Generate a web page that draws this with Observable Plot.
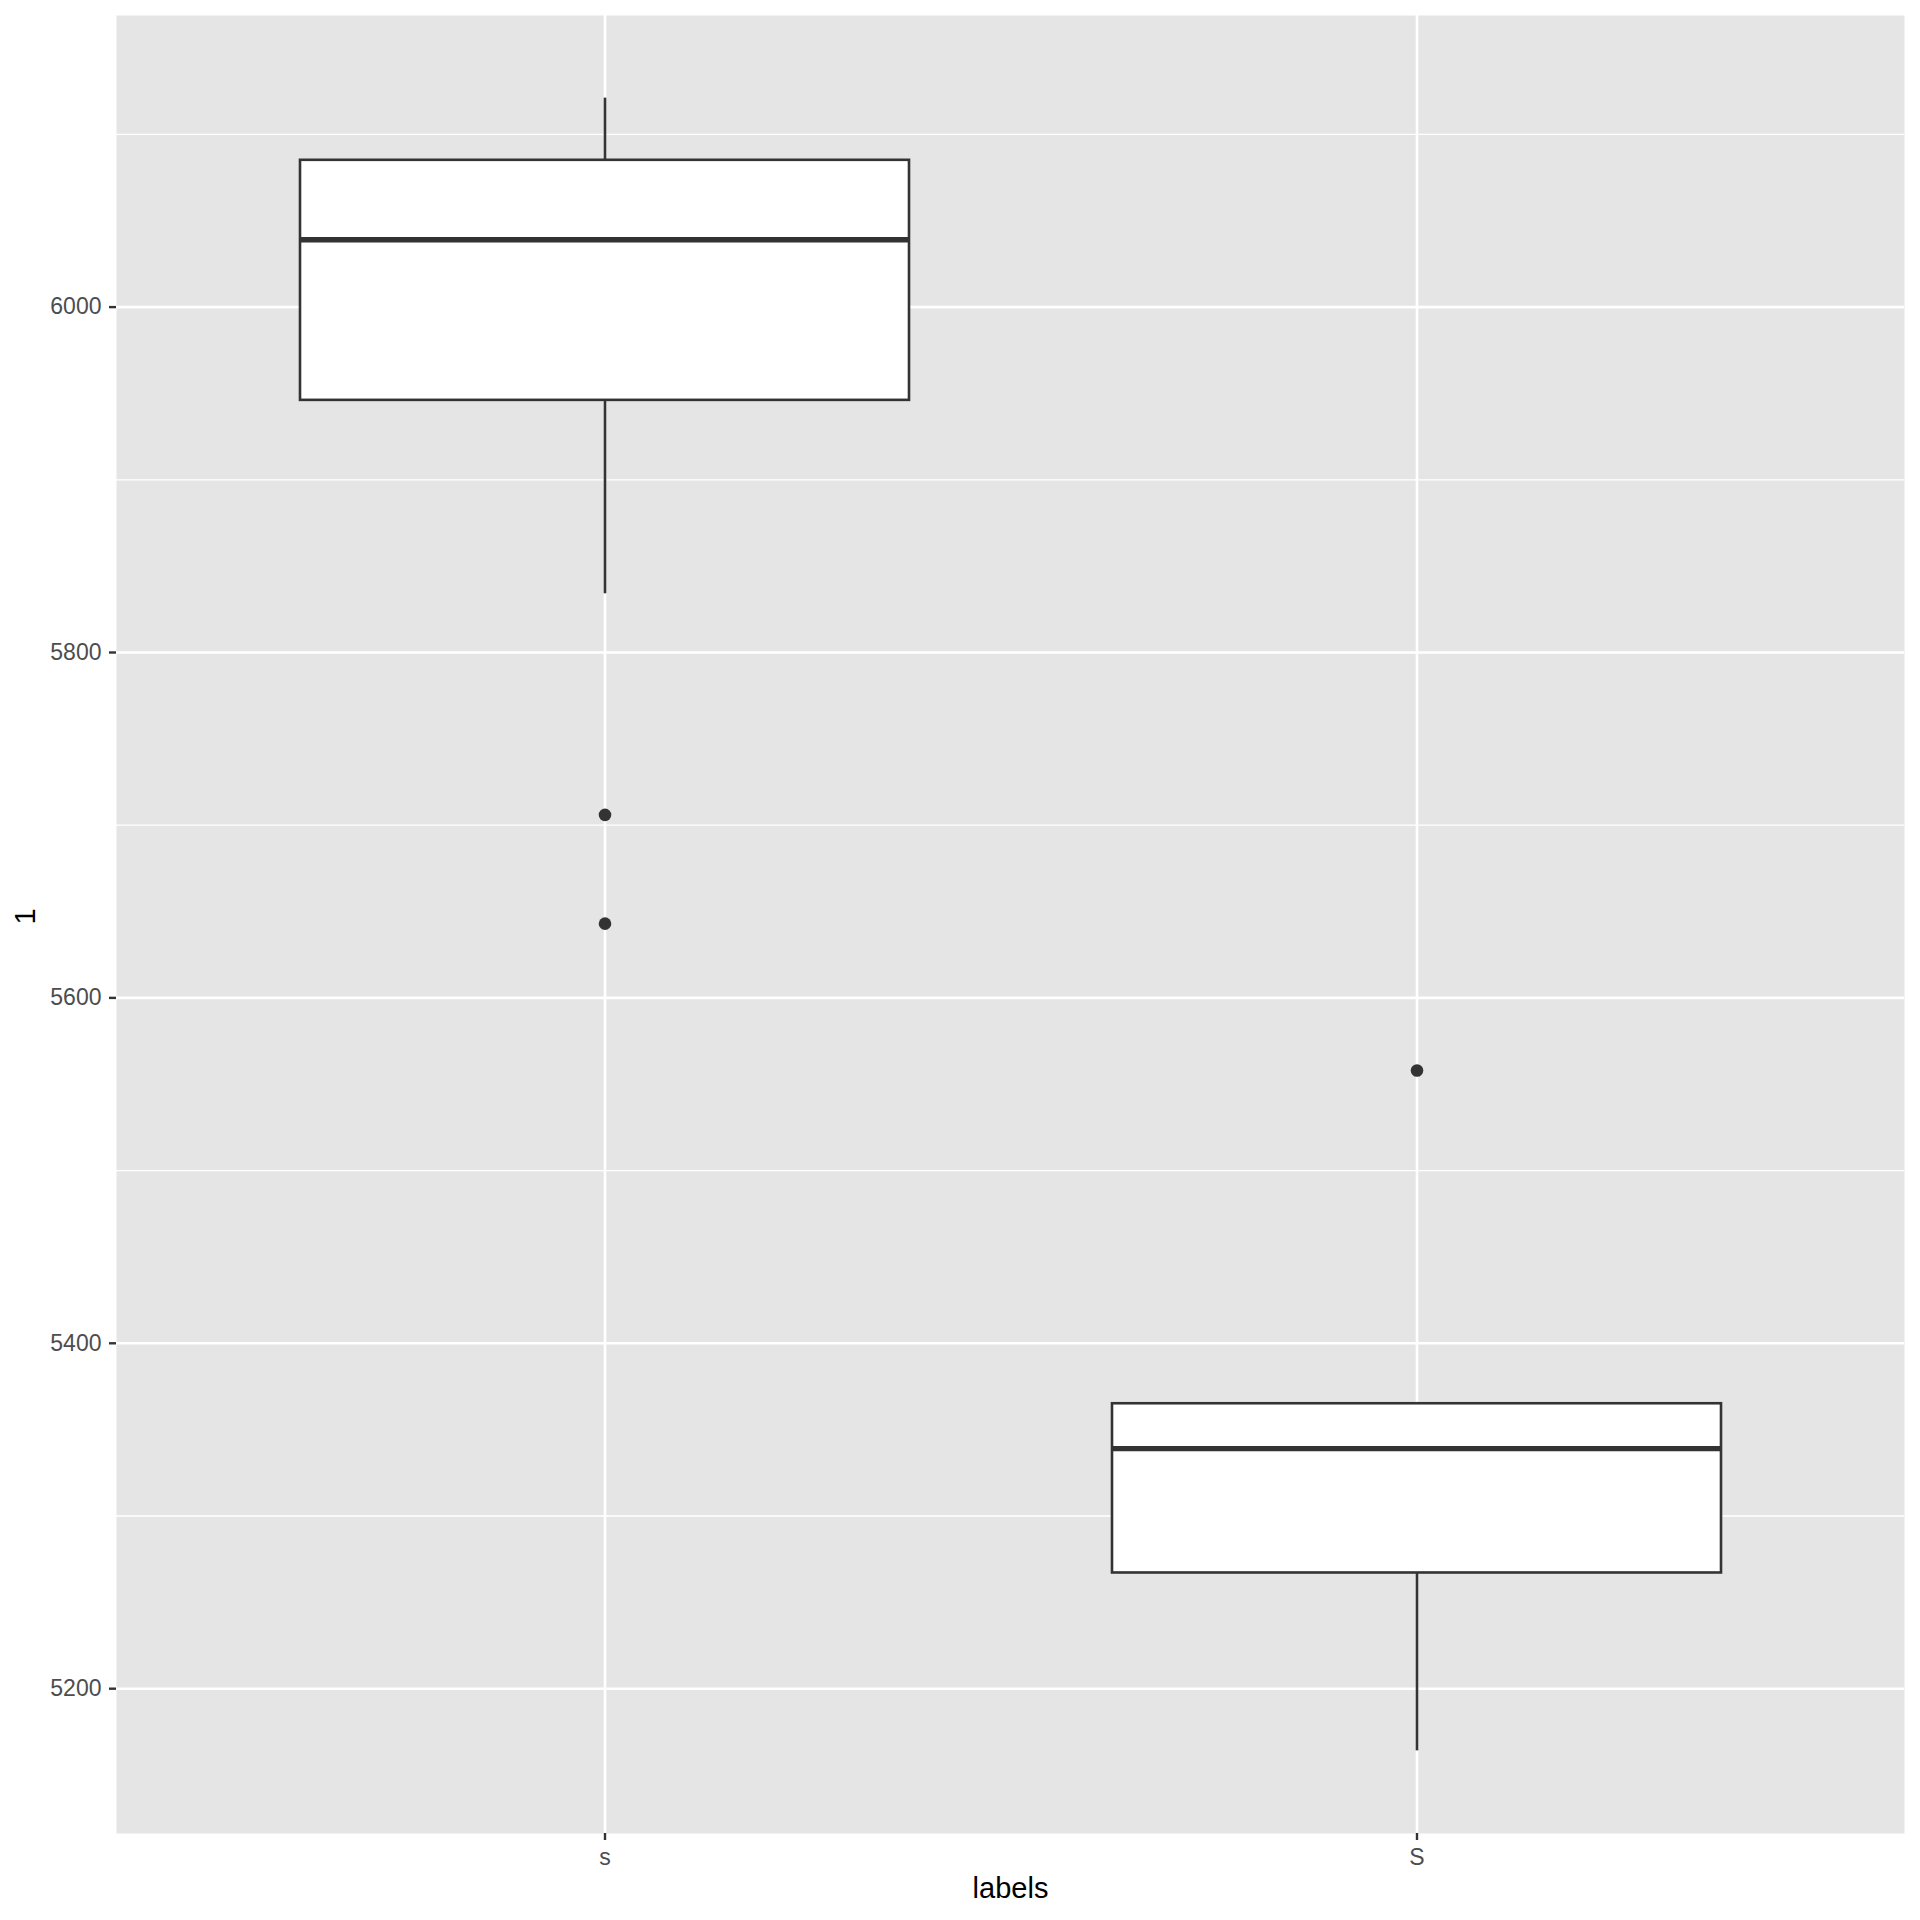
<!DOCTYPE html>
<html>
<head>
<meta charset="utf-8">
<script src="https://cdn.jsdelivr.net/npm/d3@7"></script>
<script src="https://cdn.jsdelivr.net/npm/@observablehq/plot@0.6"></script>
<style>
  html, body { margin: 0; padding: 0; background: #ffffff; }
  #chart svg { display: block; }
</style>
</head>
<body>
<div id="chart"></div>
<script>
// ---- data ----
const categories = ["s", "S"];
const whiskerLow = [5834, 5164];
const q1 = [5946, 5267];
const median = [6039, 5339];
const q3 = [6085, 5365];
const whiskerHigh = [6121, 5365];
const outlierCategory = ["s", "s", "S"];
const outlierValue = [5706, 5643, 5558];
const yTicks = [5200, 5400, 5600, 5800, 6000];
const yMinorTicks = [5300, 5500, 5700, 5900, 6100];
const xTitle = "labels";
const yTitle = "1";

// ---- tables built from the arrays ----
const boxes = categories.map((c, i) => ({
  cat: c, lo: whiskerLow[i], q1: q1[i], med: median[i], q3: q3[i], hi: whiskerHigh[i]
}));
const outliers = outlierCategory.map((c, i) => ({cat: c, value: outlierValue[i]}));

const allVals = [...whiskerLow, ...whiskerHigh, ...outlierValue];
const [vmin, vmax] = d3.extent(allVals);
const pad = (vmax - vmin) * 0.05;

const font = "'Liberation Sans', Arial, Helvetica, sans-serif";
const ink = "#333333";

const chart = Plot.plot({
  width: 1920,
  height: 1920,
  marginLeft: 116,
  marginRight: 16,
  marginTop: 15,
  marginBottom: 87,
  style: {fontFamily: font, background: "#ffffff"},
  x: {type: "band", domain: categories, paddingInner: 0.25, paddingOuter: 0.225, axis: null},
  y: {domain: [vmin - pad, vmax + pad], axis: null},
  marks: [
    Plot.frame({fill: "#E5E5E5", stroke: null}),
    Plot.ruleY(yMinorTicks, {stroke: "#ffffff", strokeWidth: 1.3}),
    Plot.ruleY(yTicks, {stroke: "#ffffff", strokeWidth: 2.6}),
    Plot.ruleX(categories, {x: d => d, stroke: "#ffffff", strokeWidth: 2.6}),
    Plot.ruleX(boxes, {x: "cat", y1: "lo", y2: "q1", stroke: ink, strokeWidth: 2.6}),
    Plot.ruleX(boxes, {x: "cat", y1: "q3", y2: "hi", stroke: ink, strokeWidth: 2.6}),
    Plot.barY(boxes, {x: "cat", y1: "q1", y2: "q3", fill: "#ffffff", stroke: ink, strokeWidth: 2.6}),
    Plot.tickY(boxes, {x: "cat", y: "med", stroke: ink, strokeWidth: 5.4}),
    Plot.dot(outliers, {x: "cat", y: "value", r: 6.3, fill: ink, stroke: null}),
    Plot.axisY({
      ticks: yTicks, tickSize: 7, tickPadding: 8, tickFormat: d => String(d),
      fontSize: 23, color: "#4D4D4D", stroke: ink, strokeWidth: 2.4, label: null
    }),
    Plot.axisX({
      tickSize: 7, tickPadding: 8,
      fontSize: 23, color: "#4D4D4D", stroke: ink, strokeWidth: 2.4, label: null
    }),
    Plot.text([xTitle], {frameAnchor: "bottom", dy: 64, fontSize: 29, fill: "#000000", fontFamily: font}),
    Plot.text([yTitle], {frameAnchor: "left", dx: -91, rotate: -90, fontSize: 29, fill: "#000000", fontFamily: font})
  ]
});

document.getElementById("chart").appendChild(chart);
</script>
</body>
</html>
